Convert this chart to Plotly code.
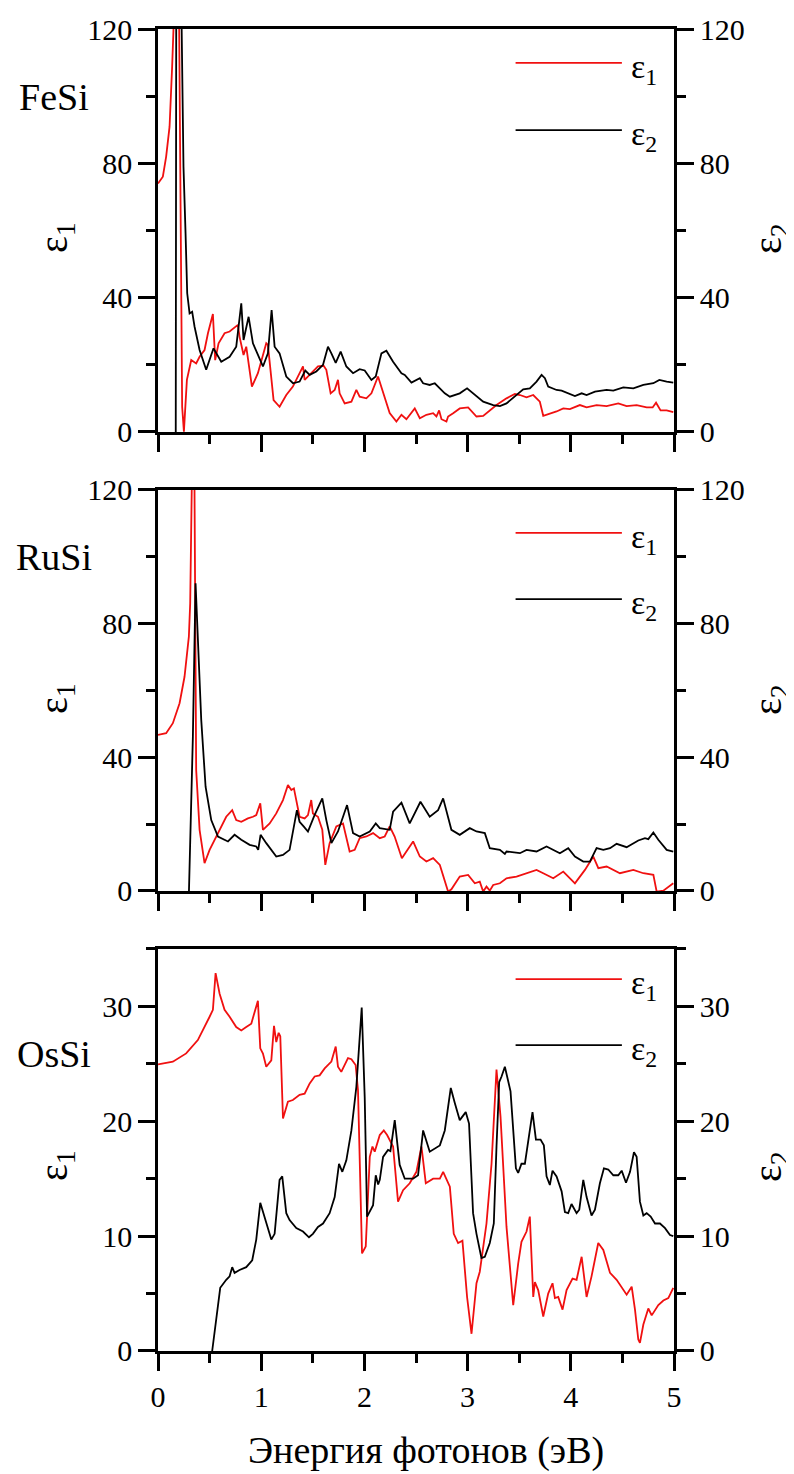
import plotly.graph_objects as go

# ---------------- data ----------------
energy_ticks = [0, 1, 2, 3, 4, 5]
panel_names = ["FeSi", "RuSi", "OsSi"]

fesi_e1_x = [0.0, 0.047, 0.079, 0.112, 0.137, 0.150, 0.165, 0.195, 0.234, 0.251, 0.280, 0.322, 0.370, 0.403,
             0.451, 0.484, 0.532, 0.554, 0.587, 0.645, 0.694, 0.774, 0.790, 0.829, 0.855, 0.910, 0.968, 1.049,
             1.065, 1.120, 1.178, 1.243, 1.307, 1.405, 1.421, 1.470, 1.550, 1.605, 1.631, 1.673, 1.712, 1.744,
             1.760, 1.809, 1.874, 1.922, 1.954, 2.019, 2.068, 2.132, 2.181, 2.245, 2.310, 2.359, 2.407, 2.456,
             2.488, 2.537, 2.601, 2.666, 2.698, 2.724, 2.747, 2.795, 2.811, 2.860, 2.924, 3.005, 3.086, 3.151,
             3.215, 3.280, 3.377, 3.458, 3.507, 3.571, 3.636, 3.700, 3.733, 3.797, 3.862, 3.927, 3.991, 4.088,
             4.153, 4.250, 4.347, 4.460, 4.541, 4.638, 4.735, 4.793, 4.826, 4.870, 4.929, 4.993]
fesi_e1_y = [74.0, 76.0, 82.0, 90.9, 108.8, 119.9, 160.0, 160.0, 7.5, 0.1, 15.5, 21.4, 20.4, 22.4,
             24.4, 29.4, 35.1, 21.4, 26.4, 29.4, 29.9, 31.9, 28.4, 22.9, 25.4, 13.5, 17.5, 26.4,
             25.9, 9.5, 7.5, 11.0, 13.5, 19.5, 15.5, 17.0, 19.5, 19.7, 18.5, 11.5, 12.5, 15.5,
             11.5, 8.5, 9.0, 12.5, 10.5, 10.0, 11.5, 16.5, 11.5, 5.6, 3.1, 5.1, 3.8, 5.6,
             7.0, 4.1, 5.1, 5.6, 4.6, 6.4, 3.8, 3.1, 4.6, 5.6, 7.0, 7.3, 4.6, 4.8,
             6.4, 8.0, 10.0, 11.3, 11.0, 10.3, 11.0, 9.0, 4.8, 5.4, 6.1, 7.0, 6.8, 8.0,
             7.3, 8.0, 7.7, 8.5, 7.7, 8.0, 7.3, 7.3, 8.7, 6.4, 6.4, 5.9]

fesi_e2_x = [0.172, 0.178, 0.212, 0.234, 0.247, 0.267, 0.283, 0.306, 0.331, 0.354, 0.403, 0.467, 0.538,
             0.613, 0.694, 0.758, 0.807, 0.829, 0.878, 0.920, 1.017, 1.065, 1.101, 1.130, 1.178, 1.243,
             1.308, 1.372, 1.427, 1.470, 1.534, 1.599, 1.647, 1.680, 1.722, 1.770, 1.825, 1.890, 1.954,
             2.003, 2.068, 2.110, 2.165, 2.213, 2.278, 2.359, 2.391, 2.456, 2.537, 2.569, 2.633, 2.682,
             2.731, 2.779, 2.828, 2.924, 2.995, 3.070, 3.151, 3.248, 3.313, 3.377, 3.474, 3.539, 3.603,
             3.668, 3.717, 3.749, 3.781, 3.862, 3.911, 3.975, 4.040, 4.105, 4.153, 4.234, 4.299, 4.347,
             4.412, 4.509, 4.606, 4.703, 4.800, 4.858, 4.929, 4.993]
fesi_e2_y = [0.0, 160.0, 160.0, 98.9, 79.0, 59.2, 41.3, 35.3, 35.8, 31.4, 24.4, 18.5, 24.9,
             20.9, 22.4, 25.4, 38.3, 27.4, 34.3, 26.4, 19.5, 23.4, 36.3, 25.4, 23.4, 16.5,
             14.5, 15.0, 18.3, 17.0, 18.0, 20.0, 25.4, 23.4, 20.6, 23.9, 19.5, 17.5, 18.7,
             18.3, 15.5, 16.5, 23.4, 24.2, 20.9, 17.5, 17.0, 14.7, 16.0, 14.5, 14.0, 14.5,
             13.0, 11.5, 10.5, 11.5, 13.0, 11.0, 9.0, 8.0, 7.7, 8.5, 11.0, 12.7, 13.0,
             15.0, 17.0, 16.0, 13.5, 12.5, 12.3, 11.5, 10.7, 11.5, 11.0, 12.0, 12.3, 12.5,
             12.3, 13.3, 13.0, 14.0, 14.5, 15.5, 15.0, 14.7]

rusi_e1_x = [0.0, 0.079, 0.144, 0.209, 0.257, 0.299, 0.312, 0.325, 0.331, 0.340, 0.348, 0.370, 0.403,
             0.451, 0.500, 0.548, 0.613, 0.661, 0.719, 0.758, 0.807, 0.871, 0.920, 0.952, 0.991, 1.017,
             1.082, 1.146, 1.211, 1.259, 1.292, 1.317, 1.372, 1.421, 1.453, 1.485, 1.501, 1.550, 1.592,
             1.621, 1.663, 1.728, 1.793, 1.857, 1.906, 1.954, 2.019, 2.084, 2.149, 2.197, 2.245, 2.293,
             2.363, 2.472, 2.537, 2.601, 2.666, 2.731, 2.811, 2.843, 2.924, 3.005, 3.070, 3.118, 3.151,
             3.183, 3.215, 3.248, 3.313, 3.377, 3.474, 3.571, 3.668, 3.733, 3.830, 3.927, 4.040, 4.137,
             4.218, 4.267, 4.347, 4.476, 4.606, 4.703, 4.800, 4.832, 4.897, 4.993]
rusi_e1_y = [46.7, 47.2, 50.2, 56.2, 64.1, 76.1, 86.1, 106.0, 120.0, 150.0, 150.0, 36.2, 18.3,
             8.3, 12.3, 15.3, 19.3, 22.2, 24.2, 21.2, 20.7, 21.7, 22.2, 22.7, 26.2, 18.3,
             20.2, 23.2, 27.2, 31.7, 30.2, 30.7, 22.2, 21.7, 22.7, 27.2, 23.2, 22.2, 18.3,
             7.8, 14.3, 19.3, 20.2, 11.8, 12.3, 15.8, 16.3, 17.3, 15.8, 16.3, 19.3, 16.3,
             9.8, 14.8, 10.3, 8.8, 9.8, 7.8, -0.2, 0.5, 4.3, 4.8, 2.3, 2.8, -0.2,
             1.3, 0.1, 1.8, 2.3, 3.8, 4.3, 5.3, 6.3, 5.3, 3.8, 5.8, 2.3, 6.3,
             10.3, 6.8, 7.3, 5.3, 6.3, 5.3, 4.8, -0.2, 0.1, 2.3]

rusi_e2_x = [0.300, 0.338, 0.364, 0.386, 0.419, 0.461, 0.516, 0.581, 0.678, 0.742, 0.807, 0.888, 0.952,
             0.971, 0.994, 1.049, 1.146, 1.211, 1.275, 1.346, 1.372, 1.411, 1.453, 1.517, 1.592, 1.631,
             1.680, 1.744, 1.832, 1.890, 1.954, 2.052, 2.110, 2.149, 2.245, 2.278, 2.359, 2.439, 2.543,
             2.633, 2.714, 2.763, 2.843, 2.924, 3.021, 3.086, 3.167, 3.215, 3.313, 3.361, 3.377, 3.507,
             3.571, 3.668, 3.765, 3.894, 3.975, 4.040, 4.121, 4.185, 4.250, 4.315, 4.380, 4.444, 4.541,
             4.654, 4.719, 4.751, 4.800, 4.848, 4.929, 4.993]
rusi_e2_y = [0.0, 46.2, 92.1, 76.1, 51.2, 31.2, 21.2, 16.3, 14.8, 16.8, 15.3, 13.8, 13.3,
             12.3, 16.8, 14.3, 10.3, 10.8, 12.3, 24.2, 20.7, 19.3, 17.8, 22.7, 27.7, 21.2,
             14.3, 17.8, 25.7, 17.3, 16.3, 17.8, 20.2, 18.8, 18.3, 23.7, 26.4, 20.2, 26.7,
             22.2, 24.2, 27.7, 18.3, 16.8, 18.8, 17.8, 17.3, 12.8, 12.3, 11.1, 11.8, 11.3,
             12.3, 11.8, 13.3, 11.3, 12.8, 10.3, 8.8, 8.8, 12.8, 12.3, 12.8, 14.1, 13.1,
             15.1, 15.8, 15.5, 17.5, 15.3, 12.3, 11.8]

ossi_e1_x = [0.0, 0.144, 0.273, 0.386, 0.500, 0.532, 0.558, 0.597, 0.645, 0.694, 0.758, 0.807, 0.855,
             0.904, 0.968, 0.991, 1.017, 1.049, 1.098, 1.124, 1.146, 1.169, 1.185, 1.211, 1.259, 1.307,
             1.372, 1.421, 1.470, 1.518, 1.566, 1.615, 1.680, 1.722, 1.744, 1.776, 1.841, 1.874, 1.915,
             1.938, 1.977, 2.013, 2.052, 2.078, 2.100, 2.149, 2.188, 2.220, 2.278, 2.326, 2.375, 2.439,
             2.504, 2.553, 2.595, 2.666, 2.731, 2.763, 2.828, 2.866, 2.908, 2.950, 2.995, 3.038, 3.086,
             3.118, 3.183, 3.232, 3.280, 3.319, 3.377, 3.442, 3.490, 3.522, 3.571, 3.603, 3.636, 3.652,
             3.684, 3.733, 3.781, 3.823, 3.846, 3.878, 3.920, 3.959, 4.017, 4.056, 4.105, 4.153, 4.201,
             4.266, 4.315, 4.380, 4.444, 4.493, 4.541, 4.590, 4.622, 4.654, 4.670, 4.703, 4.751, 4.784,
             4.848, 4.897, 4.945, 4.993]
ossi_e1_y = [24.96, 25.19, 25.91, 27.07, 29.1, 29.7, 32.9, 31.1, 29.7, 29.1, 28.2, 27.9, 28.2,
             28.5, 30.5, 26.35, 25.9, 24.75, 25.3, 28.3, 26.9, 27.7, 27.4, 20.25, 21.7, 21.85,
             22.3, 22.4, 23.3, 23.9, 24.0, 24.6, 25.2, 26.5, 24.75, 24.3, 25.5, 25.4, 24.9,
             22.7, 8.5, 9.1, 16.9, 17.8, 17.35, 18.8, 19.2, 18.8, 17.8, 13.0, 14.0, 14.6,
             15.6, 17.8, 14.6, 15.0, 15.0, 15.6, 14.3, 10.2, 9.4, 9.6, 4.7, 1.5, 5.9,
             6.9, 11.1, 16.3, 24.5, 20.4, 10.8, 4.0, 7.6, 9.5, 10.4, 11.7, 4.7, 6.0,
             5.3, 3.0, 5.0, 5.9, 4.6, 4.7, 3.6, 5.3, 6.3, 6.2, 8.2, 4.7, 6.5,
             9.4, 8.8, 6.8, 6.2, 5.5, 4.9, 5.6, 3.6, 1.0, 0.7, 2.3, 3.7, 3.1,
             4.0, 4.4, 4.6, 5.5]

ossi_e2_x = [0.525, 0.564, 0.603, 0.661, 0.694, 0.719, 0.742, 0.790, 0.855, 0.913, 0.952, 0.991, 1.049,
             1.098, 1.130, 1.178, 1.204, 1.243, 1.275, 1.340, 1.405, 1.463, 1.501, 1.550, 1.599, 1.663,
             1.712, 1.754, 1.786, 1.825, 1.874, 1.922, 1.974, 2.003, 2.026, 2.052, 2.084, 2.110, 2.133,
             2.149, 2.181, 2.229, 2.252, 2.294, 2.342, 2.391, 2.472, 2.520, 2.569, 2.633, 2.731, 2.779,
             2.837, 2.876, 2.924, 2.982, 3.014, 3.053, 3.086, 3.134, 3.167, 3.215, 3.254, 3.280, 3.306,
             3.329, 3.361, 3.416, 3.442, 3.468, 3.490, 3.522, 3.555, 3.597, 3.629, 3.662, 3.707, 3.739,
             3.765, 3.797, 3.823, 3.862, 3.911, 3.943, 3.975, 4.007, 4.056, 4.082, 4.121, 4.153, 4.201,
             4.234, 4.282, 4.321, 4.363, 4.412, 4.460, 4.493, 4.535, 4.574, 4.612, 4.638, 4.670, 4.703,
             4.735, 4.774, 4.816, 4.864, 4.913, 4.961, 4.993]
ossi_e2_y = [0.0, 3.0, 5.5, 6.2, 6.5, 7.3, 6.8, 7.05, 7.3, 7.9, 9.7, 12.9, 11.1,
             9.7, 10.2, 14.9, 15.2, 12.0, 11.4, 10.7, 10.4, 9.9, 10.2, 10.8, 11.1, 12.0,
             13.4, 16.3, 15.6, 16.6, 19.2, 23.0, 29.9, 22.1, 11.7, 12.1, 12.7, 15.3, 14.5,
             14.9, 16.9, 17.5, 17.4, 20.1, 16.2, 15.0, 15.0, 15.3, 19.2, 17.35, 17.9, 19.2,
             22.9, 21.6, 20.1, 20.8, 19.8, 12.0, 10.2, 8.1, 8.2, 9.4, 11.1, 17.8, 23.4,
             23.9, 24.75, 22.6, 19.2, 15.9, 15.5, 16.3, 16.3, 18.7, 20.8, 18.4, 18.4, 17.9,
             15.2, 14.45, 15.7, 15.2, 13.9, 12.1, 12.0, 12.8, 12.0, 12.3, 14.9, 13.4, 11.8,
             12.3, 14.6, 15.9, 15.8, 15.3, 15.3, 15.7, 14.65, 15.6, 17.3, 16.9, 13.0, 11.8,
             12.0, 11.7, 11.1, 11.1, 10.7, 10.1, 10.0]

panels = [
    dict(name="FeSi", e1=(fesi_e1_x, fesi_e1_y), e2=(fesi_e2_x, fesi_e2_y), ymax=120, dtick=40, minor=20,
         dom=(0.6952, 1.0), leg=(0.916, 0.749), lab_y=0.9486, tit_y=0.8419),
    dict(name="RuSi", e1=(rusi_e1_x, rusi_e1_y), e2=(rusi_e2_x, rusi_e2_y), ymax=120, dtick=40, minor=20,
         dom=(0.3480, 0.6513), leg=(0.893, 0.728), lab_y=0.6006, tit_y=0.4932),
    dict(name="OsSi", e1=(ossi_e1_x, ossi_e1_y), e2=(ossi_e2_x, ossi_e2_y), ymax=35, dtick=10, minor=5,
         dom=(0.0, 0.3041), leg=(0.925, 0.761), lab_y=0.2247, tit_y=0.1399),
]

FONT = "Liberation Serif"
RED = "#f01010"
LW_AX = 2.5

fig = go.Figure()
annotations = []
shapes = []

for i, p in enumerate(panels):
    n = i + 1
    xa = "x" if n == 1 else f"x{n}"
    yl = 2 * n - 1
    yr = 2 * n
    yl_name = "y" if yl == 1 else f"y{yl}"
    yr_name = f"y{yr}"
    fig.add_trace(go.Scatter(x=p["e1"][0], y=p["e1"][1], mode="lines", xaxis=xa, yaxis=yl_name,
                             line=dict(color=RED, width=1.8), showlegend=False))
    fig.add_trace(go.Scatter(x=p["e2"][0], y=p["e2"][1], mode="lines", xaxis=xa, yaxis=yr_name,
                             line=dict(color="black", width=1.8), showlegend=False))

    xkey = "xaxis" if n == 1 else f"xaxis{n}"
    fig.layout[xkey] = dict(
        domain=[0, 1], anchor=yl_name, range=[0, 5], showline=True, linewidth=LW_AX, linecolor="black",
        mirror=True, ticks="outside", ticklen=17, tickwidth=LW_AX, tickcolor="black",
        tickvals=energy_ticks, showticklabels=(n == 3), showgrid=False, zeroline=False,
        tickfont=dict(family=FONT, size=30, color="black"),
        minor=dict(dtick=0.5, ticks="outside", ticklen=9, tickwidth=LW_AX, tickcolor="black", showgrid=False),
    )
    common_y = dict(
        domain=list(p["dom"]), anchor=xa, range=[0, p["ymax"]], showline=True, linewidth=LW_AX,
        linecolor="black", ticks="outside", ticklen=17, tickwidth=LW_AX, tickcolor="black",
        dtick=p["dtick"], tick0=0, showgrid=False, zeroline=False,
        tickfont=dict(family=FONT, size=30, color="black"),
        minor=dict(dtick=p["minor"], tick0=0, ticks="outside", ticklen=9, tickwidth=LW_AX,
                   tickcolor="black", showgrid=False),
    )
    ylkey = "yaxis" if yl == 1 else f"yaxis{yl}"
    fig.layout[ylkey] = dict(common_y, side="left")
    fig.layout[f"yaxis{yr}"] = dict(common_y, side="right", overlaying=yl_name)

    # legend drawn as line samples + labels
    xd = f"{xa} domain"
    yd = f"{yl_name} domain"
    for k, (col, lab) in enumerate([(RED, "ε<sub>1</sub>"), ("black", "ε<sub>2</sub>")]):
        yy = p["leg"][k]
        shapes.append(dict(type="line", xref=xd, yref=yd, x0=0.693, x1=0.899, y0=yy, y1=yy,
                           line=dict(color=col, width=1.8)))
        annotations.append(dict(xref=xd, yref=yd, x=0.912, y=yy, xanchor="left", yanchor="middle",
                                text=lab, showarrow=False, yshift=-6,
                                font=dict(family=FONT, size=34, color="black")))

    # panel label
    annotations.append(dict(xref="paper", yref="paper", x=-0.2025, y=p["lab_y"], xanchor="center",
                            yanchor="middle", text=p["name"], showarrow=False,
                            font=dict(family=FONT, size=38, color="black")))
    # axis titles
    annotations.append(dict(xref="paper", yref="paper", x=-0.1976, y=p["tit_y"], xanchor="center",
                            yanchor="middle", text="ε<sub>1</sub>", textangle=-90, showarrow=False,
                            font=dict(family=FONT, size=40, color="black")))
    annotations.append(dict(xref="paper", yref="paper", x=1.186, y=p["tit_y"], xanchor="center",
                            yanchor="middle", text="ε<sub>2</sub>", textangle=-90, showarrow=False,
                            font=dict(family=FONT, size=40, color="black")))

annotations.append(dict(xref="paper", yref="paper", x=0.519, y=-0.0749, xanchor="center", yanchor="middle",
                        text="Энергия фотонов (эВ)", showarrow=False,
                        font=dict(family=FONT, size=38, color="black")))

# the page body adds an 8 px offset, so the figure is 8 px smaller and margins shifted accordingly
fig.update_layout(
    width=786, height=1466,
    margin=dict(l=150.4, r=120, t=21, b=123, autoexpand=False),
    paper_bgcolor="white", plot_bgcolor="white",
    annotations=annotations, shapes=shapes, showlegend=False,
    font=dict(family=FONT, color="black"),
)

fig.write_html("out.html")
